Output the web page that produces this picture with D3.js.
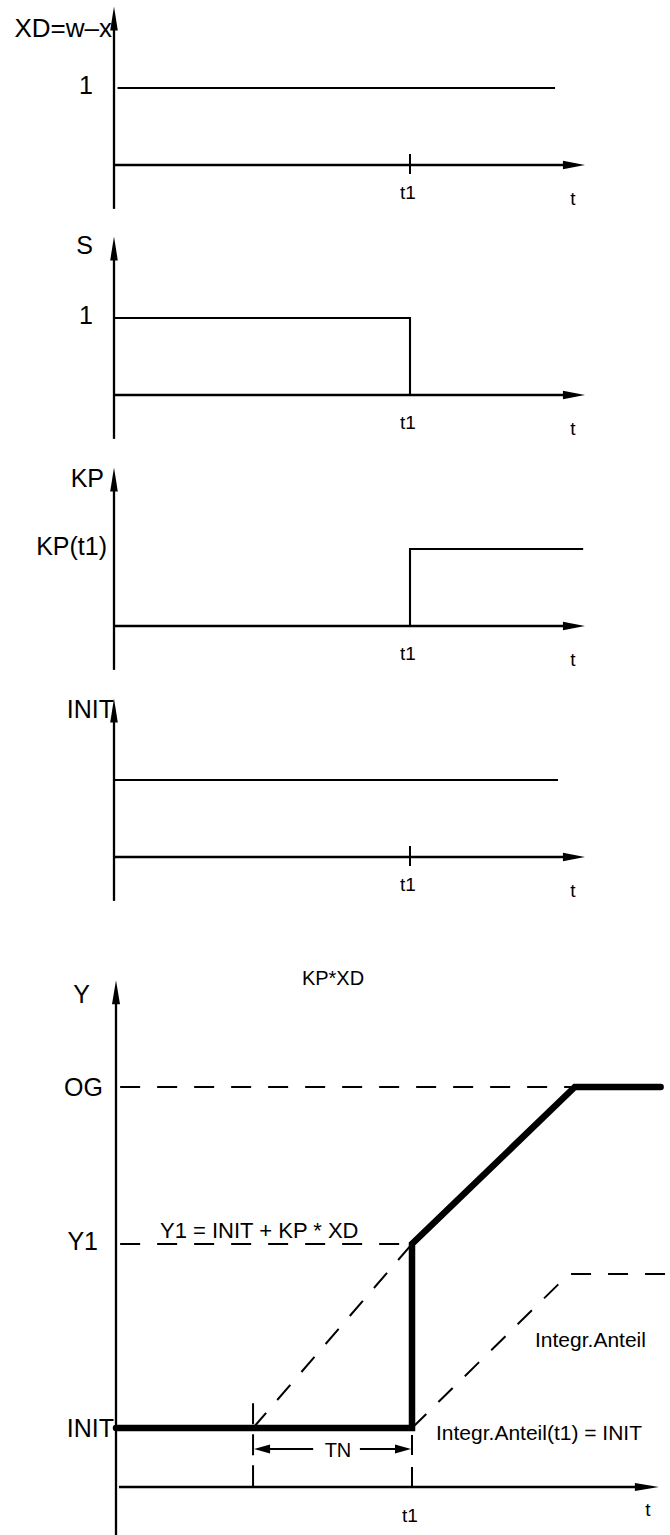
<!DOCTYPE html>
<html><head><meta charset="utf-8">
<script src="https://cdn.jsdelivr.net/npm/d3@7"></script>
<style>
body{margin:0;background:#fff}
svg{display:block}
text{font-family:"Liberation Sans",Arial,Helvetica,sans-serif;fill:#000}
</style>
</head><body>
<script>
// ---------- data ----------
const panelNames  = ["XD=w–x", "S", "KP", "INIT"];
const levelLabels = ["1", "1", "KP(t1)", ""];
const t1Text = "t1", tText = "t";
const xdSeries   = [[0, 1], [1.49, 1]];
const sSeries    = [[0, 1], [1, 1], [1, 0]];
const kpSeries   = [[1, 0], [1, 1], [1.585, 1]];
const initSeries = [[0, 1], [1.50, 1]];
const panelSeries = [xdSeries, sSeries, kpSeries, initSeries];
const panelHasTick = [true, false, false, true];

const outTitle = "KP*XD";
const outAxisName = "Y";
const outLevelNames = ["OG", "Y1", "INIT"];
const outLevels = [6.78, 4.12, 1.0];
const outSeries    = [[0, 1], [1, 1], [1, 4.12], [1.55, 6.78], [1.84, 6.78]];
const ogGuide      = [[0.014, 6.78], [1.55, 6.78]];
const y1Guide      = [[0.014, 4.12], [1, 4.12]];
const propRamp     = [[0.463, 1], [1, 4.12]];
const integrSeries = [[1, 1], [1.53, 3.61], [1.875, 3.61]];
const tnStart = 0.463, t1 = 1;
const formulaText = "Y1 = INIT + KP * XD";
const integrText = "Integr.Anteil";
const integrT1Text = "Integr.Anteil(t1) = INIT";
const tnText = "TN";

// ---------- layout ----------
const W = 670, H = 1535;
const svg = d3.select("body").append("svg").attr("width", W).attr("height", H);

const xTop = d3.scaleLinear().domain([0, 1]).range([114, 410]);
const xBot = d3.scaleLinear().domain([0, 1]).range([116, 412]);
const axisYs = [165, 395, 626, 857];
const titleDy = [-137, -150, -148, -148];
const titleEnd = [112, 93, 104, 114];
const titleSize = [26, 25, 25, 25];
const levelEnd = [93, 93, 107, 93];

function arrowUp(g, x, yTip, len, hw) {
  g.append("path").attr("d", `M${x},${yTip}L${x - hw},${yTip + len}L${x + hw},${yTip + len}Z`).attr("fill", "#000");
}
function arrowRight(g, xTip, y, len, hw) {
  g.append("path").attr("d", `M${xTip},${y}L${xTip - len},${y - hw}L${xTip - len},${y + hw}Z`).attr("fill", "#000");
}
function arrowLeft(g, xTip, y, len, hw) {
  g.append("path").attr("d", `M${xTip},${y}L${xTip + len},${y - hw}L${xTip + len},${y + hw}Z`).attr("fill", "#000");
}

// ---------- upper four panels ----------
panelSeries.forEach((series, i) => {
  const g = svg.append("g");
  const ay = axisYs[i];
  const y = d3.scaleLinear().domain([0, 1]).range([ay, ay - 77]);
  const line = d3.line().x(d => xTop(d[0])).y(d => y(d[1]));

  // y axis
  g.append("line").attr("x1", xTop(0)).attr("x2", xTop(0))
    .attr("y1", y(-0.57)).attr("y2", y(1.9)).attr("stroke", "#000").attr("stroke-width", 2.3);
  arrowUp(g, xTop(0), y(2.06), 24, 3.8);
  // x axis
  g.append("line").attr("x1", xTop(0)).attr("x2", xTop(1.52))
    .attr("y1", y(0)).attr("y2", y(0)).attr("stroke", "#000").attr("stroke-width", 2.3);
  arrowRight(g, xTop(1.591), y(0), 22, 4.3);
  if (panelHasTick[i]) {
    g.append("line").attr("x1", xTop(t1)).attr("x2", xTop(t1))
      .attr("y1", ay - 11).attr("y2", ay + 9).attr("stroke", "#000").attr("stroke-width", 2);
  }
  // signal
  const s = (i === 0) ? series.map((d, k) => k === 0 ? [0.012, d[1]] : d) : series;
  g.append("path").attr("d", line(s)).attr("fill", "none")
    .attr("stroke", "#000").attr("stroke-width", 2.1);

  // labels
  g.append("text").attr("x", titleEnd[i]).attr("y", ay + titleDy[i]).attr("dy", "0.36em")
    .attr("text-anchor", "end").attr("font-size", titleSize[i]).text(panelNames[i]);
  if (levelLabels[i]) {
    g.append("text").attr("x", levelEnd[i]).attr("y", y(1) - 3).attr("dy", "0.36em")
      .attr("text-anchor", "end").attr("font-size", 25).text(levelLabels[i]);
  }
  g.append("text").attr("x", xTop(t1) - 2).attr("y", ay + 27).attr("dy", "0.36em")
    .attr("text-anchor", "middle").attr("font-size", 19).text(t1Text);
  g.append("text").attr("x", 573).attr("y", ay + 33).attr("dy", "0.36em")
    .attr("text-anchor", "middle").attr("font-size", 19).text(tText);
});

// ---------- bottom output panel ----------
const gb = svg.append("g");
const yB = d3.scaleLinear().domain([0, 1]).range([1487, 1428]);
const lineB = d3.line().x(d => xBot(d[0])).y(d => yB(d[1]));

// axes
gb.append("line").attr("x1", xBot(0)).attr("x2", xBot(0))
  .attr("y1", yB(-0.85)).attr("y2", yB(8.3)).attr("stroke", "#000").attr("stroke-width", 2.3);
arrowUp(gb, xBot(0), yB(8.59), 24, 4);
gb.append("line").attr("x1", xBot(0.01)).attr("x2", xBot(1.77))
  .attr("y1", yB(0)).attr("y2", yB(0)).attr("stroke", "#000").attr("stroke-width", 2.3);
arrowRight(gb, xBot(1.834), yB(0), 24, 4);

// dashed guides
const dash = "20,17";
[ogGuide, y1Guide, propRamp, integrSeries].forEach(s => {
  gb.append("path").attr("d", lineB(s)).attr("fill", "none")
    .attr("stroke", "#000").attr("stroke-width", 2).attr("stroke-dasharray", dash);
});

// TN dimension
gb.append("line").attr("x1", xBot(tnStart)).attr("x2", xBot(tnStart))
  .attr("y1", yB(1.42)).attr("y2", yB(0)).attr("stroke", "#000").attr("stroke-width", 2)
  .attr("stroke-dasharray", "21,10");
gb.append("line").attr("x1", xBot(t1)).attr("x2", xBot(t1))
  .attr("y1", yB(0.88)).attr("y2", yB(0)).attr("stroke", "#000").attr("stroke-width", 2)
  .attr("stroke-dasharray", "20,12");
const tnY = yB(0.644);
gb.append("line").attr("x1", xBot(tnStart) + 10).attr("x2", xBot(0.666))
  .attr("y1", tnY).attr("y2", tnY).attr("stroke", "#000").attr("stroke-width", 2);
gb.append("line").attr("x1", xBot(0.824)).attr("x2", xBot(t1) - 10)
  .attr("y1", tnY).attr("y2", tnY).attr("stroke", "#000").attr("stroke-width", 2);
arrowLeft(gb, xBot(tnStart) + 1, tnY, 16, 4.5);
arrowRight(gb, xBot(t1) - 1, tnY, 16, 4.5);
gb.append("text").attr("x", xBot(0.75)).attr("y", tnY + 1).attr("dy", "0.36em")
  .attr("text-anchor", "middle").attr("font-size", 20).text(tnText);

// output signal (thick)
gb.append("path").attr("d", lineB(outSeries)).attr("fill", "none")
  .attr("stroke", "#000").attr("stroke-width", 6.5)
  .attr("stroke-linejoin", "miter").attr("stroke-linecap", "round");

// labels
gb.append("text").attr("x", 333).attr("y", 978).attr("dy", "0.36em")
  .attr("text-anchor", "middle").attr("font-size", 20).text(outTitle);
gb.append("text").attr("x", 90).attr("y", 994).attr("dy", "0.36em")
  .attr("text-anchor", "end").attr("font-size", 25).text(outAxisName);
const outLabelEnd = [103, 98, 114];
const outLabelDy = [0, -3, 0];
outLevelNames.forEach((n, k) => {
  gb.append("text").attr("x", outLabelEnd[k]).attr("y", yB(outLevels[k]) + outLabelDy[k]).attr("dy", "0.36em")
    .attr("text-anchor", "end").attr("font-size", 25).text(n);
});
gb.append("text").attr("x", 160).attr("y", yB(4.12) - 14).attr("dy", "0.36em")
  .attr("font-size", 22).text(formulaText);
gb.append("text").attr("x", 535).attr("y", 1339).attr("dy", "0.36em")
  .attr("font-size", 21).text(integrText);
gb.append("text").attr("x", 436).attr("y", 1432).attr("dy", "0.36em")
  .attr("font-size", 21).text(integrT1Text);
gb.append("text").attr("x", xBot(t1) - 2).attr("y", 1515).attr("dy", "0.36em")
  .attr("text-anchor", "middle").attr("font-size", 19).text(t1Text);
gb.append("text").attr("x", 648).attr("y", 1509).attr("dy", "0.36em")
  .attr("text-anchor", "middle").attr("font-size", 19).text(tText);
</script>
</body></html>
